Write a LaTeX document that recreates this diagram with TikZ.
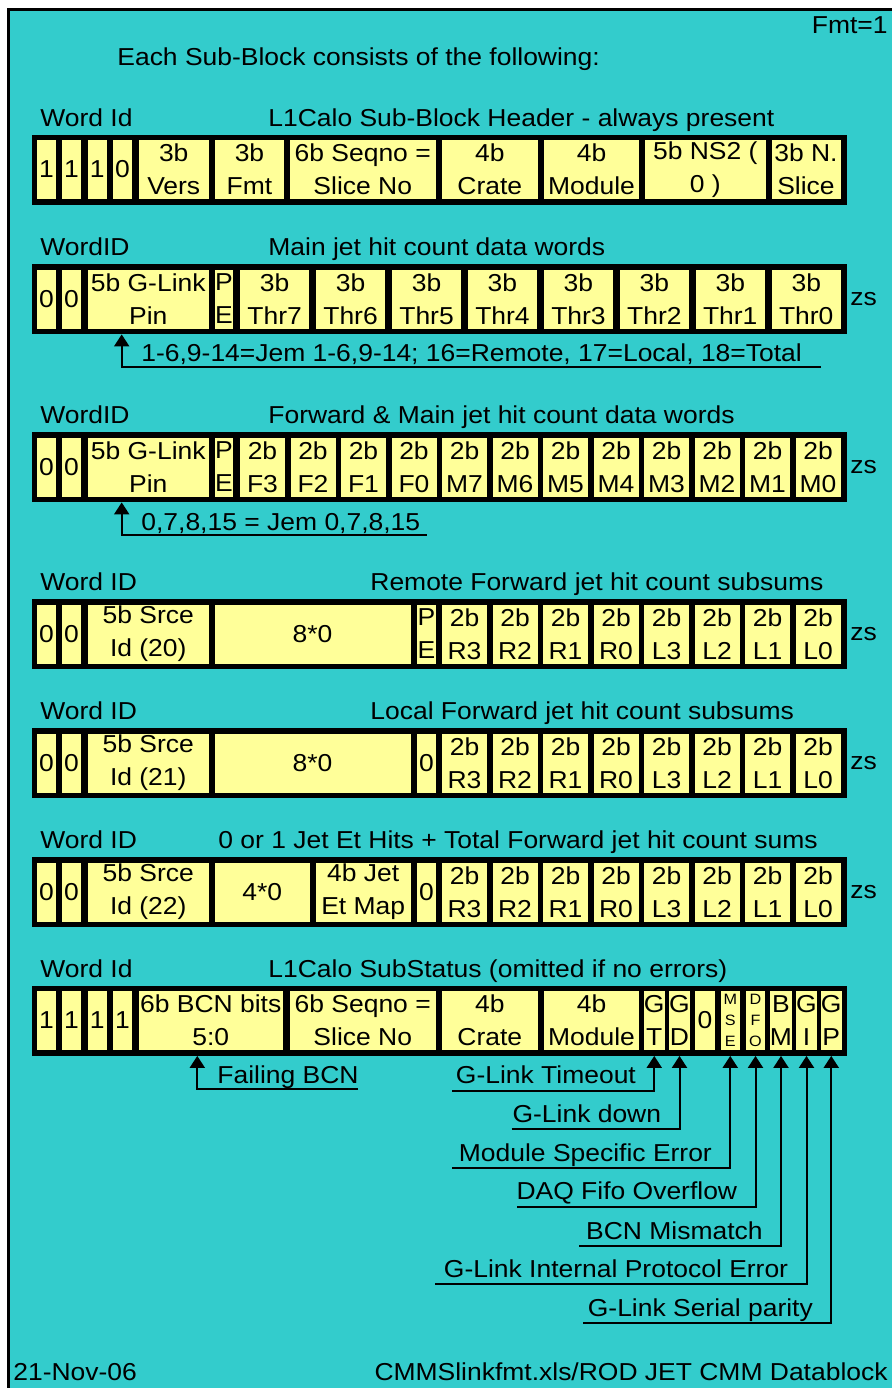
\documentclass[tikz,border=0pt]{standalone}
\usepackage{fontspec}
\setmainfont{Liberation Sans}[FakeStretch=1.08]
\usetikzlibrary{arrows.meta}
\definecolor{sheetcyan}{HTML}{33CCCC}
\definecolor{cellyellow}{HTML}{FFFF99}

% one field of a data word: [style] name, left, right, row centre, text
\newcommand{\field}[6][]{\node[cell,#1, minimum width={(#4-#3)*0.5pt}] (#2) at ({(#3+#4)/2},#5) {#6};}

\begin{document}
\begin{tikzpicture}[x=0.5pt, y=-0.5pt, >={Triangle[length=6pt, width=7.5pt]},
  every node/.style={inner sep=0pt, text=black},
  txt/.style={font=\fontsize{12.25}{16.5}\selectfont},
  cell/.style={txt, fill=cellyellow, minimum height=29.5pt, align=center},
  tiny/.style={font=\fontsize{7.5}{10.5}\selectfont},
  wordbox/.style={fill=black, minimum width=407.5pt, minimum height=35pt},
  pointer/.style={line width=1pt, ->}]

% Background and frame
\useasboundingbox (0,0) rectangle (892,1388);
\fill[sheetcyan] (8.7,9.7) rectangle (892,1388);
\draw[line width=1.4pt] (8.7,1388) -- (8.7,9.7) -- (892,9.7);

% Heading
\node[txt, anchor=base east] (fmt) at (888,33.7) {Fmt=1};
\node[txt, anchor=base west] (intro) at (117,65.4) {Each Sub-Block consists of the following:};

% Word 1: sub-block header
\node[txt, anchor=base west] (id1) at (40,126.2) {Word Id};
\node[txt, anchor=base west] (ttl1) at (268,126.2) {L1Calo Sub-Block Header - always present};
\node[wordbox] (word1) at (439.2,169.5) {};
\field{h1}{37}{56}{169.5}{1}
\field{h2}{62}{81}{169.5}{1}
\field{h3}{87.5}{107}{169.5}{1}
\field{h4}{113}{132}{169.5}{0}
\field{hVers}{138.5}{209}{169.5}{3b\\Vers}
\field{hFmt}{215}{284}{169.5}{3b\\Fmt}
\field{hSeq}{290}{435.5}{169.5}{6b Seqno =\\Slice No}
\field{hCrate}{442}{537.5}{169.5}{4b\\Crate}
\field{hMod}{544}{639}{169.5}{4b\\Module}
\field{hNS}{645}{765.5}{169.5}{5b NS2 (\\0 )}
\field{hSlice}{771.5}{840.5}{169.5}{3b N.\\Slice}

% Word 2: main jet hit counts
\node[txt, anchor=base west] (id2) at (40,255.7) {WordID};
\node[txt, anchor=base west] (ttl2) at (268,255.7) {Main jet hit count data words};
\node[wordbox] (word2) at (439.2,299) {};
\field{j1}{37}{56}{299}{0}
\field{j2}{62}{81}{299}{0}
\field{jPin}{87.5}{209}{299}{5b G-Link\\Pin}
\field{jPE}{215}{233}{299}{P\\E}
\field{jThr7}{240}{309.3}{299}{3b\\Thr7}
\field{jThr6}{315.9}{385.2}{299}{3b\\Thr6}
\field{jThr5}{391.9}{461.2}{299}{3b\\Thr5}
\field{jThr4}{467.8}{537.1}{299}{3b\\Thr4}
\field{jThr3}{543.8}{613.1}{299}{3b\\Thr3}
\field{jThr2}{619.7}{689}{299}{3b\\Thr2}
\field{jThr1}{695.6}{764.9}{299}{3b\\Thr1}
\field{jThr0}{771.6}{840.9}{299}{3b\\Thr0}
\node[txt, anchor=west] (zs2) at (850,299) {zs};

% Pin note
\coordinate (u2) at (821,367);
\coordinate (a2) at (121.7,367);
\node[txt, anchor=base west] (n2) at (141,361.7) {1-6,9-14=Jem 1-6,9-14; 16=Remote, 17=Local, 18=Total};
\draw[pointer] (u2) -- (a2) -- (a2 |- word2.south);

% Word 3: forward and main jet hit counts
\node[txt, anchor=base west] (id3) at (40,423.7) {WordID};
\node[txt, anchor=base west] (ttl3) at (268,423.7) {Forward \& Main jet hit count data words};
\node[wordbox] (word3) at (439.2,467) {};
\field{f1}{37}{56}{467}{0}
\field{f2}{62}{81}{467}{0}
\field{fPin}{87.5}{209}{467}{5b G-Link\\Pin}
\field{fPE}{215}{233}{467}{P\\E}
\field{fF3}{240}{285}{467}{2b\\F3}
\field{fF2}{290.5}{335.5}{467}{2b\\F2}
\field{fF1}{341}{386}{467}{2b\\F1}
\field{fF0}{391.5}{436.5}{467}{2b\\F0}
\field{fM7}{442}{487}{467}{2b\\M7}
\field{fM6}{492.5}{537.5}{467}{2b\\M6}
\field{fM5}{543}{588}{467}{2b\\M5}
\field{fM4}{593.5}{638.5}{467}{2b\\M4}
\field{fM3}{644}{689}{467}{2b\\M3}
\field{fM2}{694.5}{739.5}{467}{2b\\M2}
\field{fM1}{745}{790}{467}{2b\\M1}
\field{fM0}{795.5}{840.5}{467}{2b\\M0}
\node[txt, anchor=west] (zs3) at (850,467) {zs};

% Pin note
\coordinate (u3) at (426.6,535);
\coordinate (a3) at (121.7,535);
\node[txt, anchor=base west] (n3) at (141,530.4) {0,7,8,15 = Jem 0,7,8,15};
\draw[pointer] (u3) -- (a3) -- (a3 |- word3.south);

% Word 4: remote forward subsums
\node[txt, anchor=base west] (id4) at (40,590.7) {Word ID};
\node[txt, anchor=base west] (ttl4) at (370,590.7) {Remote Forward jet hit count subsums};
\node[wordbox] (word4) at (439.2,634) {};
\field{rm1}{37}{56}{634}{0}
\field{rm2}{62}{81}{634}{0}
\field{rmSrc}{87.5}{209}{634}{5b Srce\\Id (20)}
\field{rmPad}{214.5}{410.7}{634}{8*0}
\field{rmPE}{417}{436}{634}{P\\E}
\field{rmR3}{442}{487}{634}{2b\\R3}
\field{rmR2}{492.5}{537.5}{634}{2b\\R2}
\field{rmR1}{543}{588}{634}{2b\\R1}
\field{rmR0}{593.5}{638.5}{634}{2b\\R0}
\field{rmL3}{644}{689}{634}{2b\\L3}
\field{rmL2}{694.5}{739.5}{634}{2b\\L2}
\field{rmL1}{745}{790}{634}{2b\\L1}
\field{rmL0}{795.5}{840.5}{634}{2b\\L0}
\node[txt, anchor=west] (zs4) at (850,634) {zs};

% Word 5: local forward subsums
\node[txt, anchor=base west] (id5) at (40,719.7) {Word ID};
\node[txt, anchor=base west] (ttl5) at (370,719.7) {Local Forward jet hit count subsums};
\node[wordbox] (word5) at (439.2,763) {};
\field{lc1}{37}{56}{763}{0}
\field{lc2}{62}{81}{763}{0}
\field{lcSrc}{87.5}{209}{763}{5b Srce\\Id (21)}
\field{lcPad}{214.5}{410.7}{763}{8*0}
\field{lcZero}{417}{436}{763}{0}
\field{lcR3}{442}{487}{763}{2b\\R3}
\field{lcR2}{492.5}{537.5}{763}{2b\\R2}
\field{lcR1}{543}{588}{763}{2b\\R1}
\field{lcR0}{593.5}{638.5}{763}{2b\\R0}
\field{lcL3}{644}{689}{763}{2b\\L3}
\field{lcL2}{694.5}{739.5}{763}{2b\\L2}
\field{lcL1}{745}{790}{763}{2b\\L1}
\field{lcL0}{795.5}{840.5}{763}{2b\\L0}
\node[txt, anchor=west] (zs5) at (850,763) {zs};

% Word 6: jet Et hits and total forward sums
\node[txt, anchor=base west] (id6) at (40,848.7) {Word ID};
\node[txt, anchor=base west] (ttl6) at (218,848.7) {0 or 1 Jet Et Hits + Total Forward jet hit count sums};
\node[wordbox] (word6) at (439.2,892) {};
\field{tt1}{37}{56}{892}{0}
\field{tt2}{62}{81}{892}{0}
\field{ttSrc}{87.5}{209}{892}{5b Srce\\Id (22)}
\field{ttPad}{214.5}{310}{892}{4*0}
\field{ttMap}{315.7}{410.7}{892}{4b Jet\\Et Map}
\field{ttZero}{417}{436}{892}{0}
\field{ttR3}{442}{487}{892}{2b\\R3}
\field{ttR2}{492.5}{537.5}{892}{2b\\R2}
\field{ttR1}{543}{588}{892}{2b\\R1}
\field{ttR0}{593.5}{638.5}{892}{2b\\R0}
\field{ttL3}{644}{689}{892}{2b\\L3}
\field{ttL2}{694.5}{739.5}{892}{2b\\L2}
\field{ttL1}{745}{790}{892}{2b\\L1}
\field{ttL0}{795.5}{840.5}{892}{2b\\L0}
\node[txt, anchor=west] (zs6) at (850,892) {zs};

% Word 7: sub-status
\node[txt, anchor=base west] (id7) at (40,977.2) {Word Id};
\node[txt, anchor=base west] (ttl7) at (268,977.2) {L1Calo SubStatus (omitted if no errors)};
\node[wordbox] (word7) at (439.2,1020.5) {};
\field{s1}{37}{56}{1020.5}{1}
\field{s2}{62}{81}{1020.5}{1}
\field{s3}{87.5}{107}{1020.5}{1}
\field{s4}{113}{132}{1020.5}{1}
\field{sBCN}{138.5}{283}{1020.5}{6b BCN bits\\5:0}
\field{sSeq}{290}{435.5}{1020.5}{6b Seqno =\\Slice No}
\field{sCrate}{442}{537.5}{1020.5}{4b\\Crate}
\field{sMod}{544}{639}{1020.5}{4b\\Module}
\field{GT}{645}{663.5}{1020.5}{G\\T}
\field{GD}{670}{689}{1020.5}{G\\D}
\field{sZero}{695}{715}{1020.5}{0}
\field[tiny]{MSE}{721}{739.5}{1020.5}{M\\S\\E}
\field[tiny]{DFO}{746}{765}{1020.5}{D\\F\\O}
\field{BM}{771.5}{790.5}{1020.5}{B\\M}
\field{GI}{797}{816}{1020.5}{G\\I}
\field{GP}{822}{840.5}{1020.5}{G\\P}

% Status pointers
\coordinate (uBCN) at (358,1089.3);
\coordinate (aBCN) at (197.3,1089.3);
\node[txt, anchor=base west] (tBCN) at (217,1083.7) {Failing BCN};
\draw[pointer] (uBCN) -- (aBCN) -- (aBCN |- word7.south);

\coordinate (uGT) at (452.3,1090.7);
\draw[pointer] (uGT) -| (GT |- word7.south);
\node[txt, anchor=base east] (tGT) at ([xshift=-9pt, yshift=3.5pt]uGT -| GT) {G-Link Timeout};

\coordinate (uGD) at (511.7,1129.3);
\draw[pointer] (uGD) -| (GD |- word7.south);
\node[txt, anchor=base east] (tGD) at ([xshift=-9pt, yshift=3.5pt]uGD -| GD) {G-Link down};

\coordinate (uMSE) at (452.3,1168.3);
\draw[pointer] (uMSE) -| (MSE |- word7.south);
\node[txt, anchor=base east] (tMSE) at ([xshift=-9pt, yshift=3.5pt]uMSE -| MSE) {Module Specific Error};

\coordinate (uDFO) at (517.3,1206.7);
\draw[pointer] (uDFO) -| (DFO |- word7.south);
\node[txt, anchor=base east] (tDFO) at ([xshift=-9pt, yshift=3.5pt]uDFO -| DFO) {DAQ Fifo Overflow};

\coordinate (uBM) at (579,1246);
\draw[pointer] (uBM) -| (BM |- word7.south);
\node[txt, anchor=base east] (tBM) at ([xshift=-9pt, yshift=3.5pt]uBM -| BM) {BCN Mismatch};

\coordinate (uGI) at (435,1284.3);
\draw[pointer] (uGI) -| (GI |- word7.south);
\node[txt, anchor=base east] (tGI) at ([xshift=-9pt, yshift=3.5pt]uGI -| GI) {G-Link Internal Protocol Error};

\coordinate (uGP) at (583.3,1323.3);
\draw[pointer] (uGP) -| (GP |- word7.south);
\node[txt, anchor=base east] (tGP) at ([xshift=-9pt, yshift=3.5pt]uGP -| GP) {G-Link Serial parity};

% Footer
\node[txt, anchor=base west] (date) at (13,1380.4) {21-Nov-06};
\node[txt, anchor=base east] (src) at (888,1380.4) {CMMSlinkfmt.xls/ROD JET CMM Datablock};

\end{tikzpicture}
\end{document}
